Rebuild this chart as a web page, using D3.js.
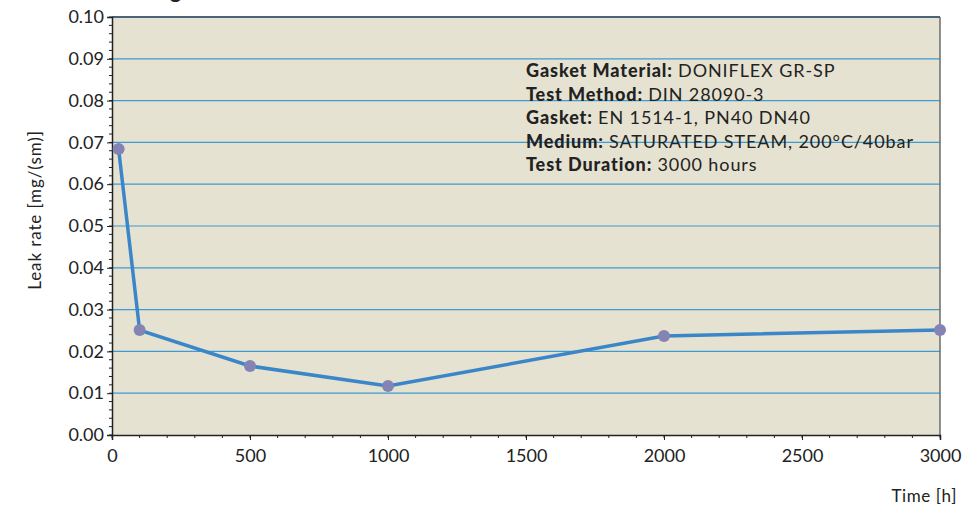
<!DOCTYPE html>
<html lang="en">
  <head>
    <meta charset="utf-8">
    <title>Leak rate</title>
    <script src="https://d3js.org/d3.v7.min.js"></script>
    <style>
      body { margin: 0; background: #fff; }
      text { font-family: Lato, "Open Sans", sans-serif; fill: #222; }
    </style>
  </head>
  <body>
    <div id="chart"></div>
    <script>
      // Data
      var hours = [24, 100, 500, 1000, 2000, 3000];
      var leakRate = [0.0684, 0.0251, 0.0165, 0.0117, 0.0237, 0.0251];
      var xTicks = [0, 500, 1000, 1500, 2000, 2500, 3000];
      var yTicks = [0, 0.01, 0.02, 0.03, 0.04, 0.05, 0.06, 0.07, 0.08, 0.09, 0.10];
      var infoLabels = ["Gasket Material:", "Test Method:", "Gasket:", "Medium:", "Test Duration:"];
      var infoValues = ["DONIFLEX GR-SP", "DIN 28090-3", "EN 1514-1, PN40 DN40", "SATURATED STEAM, 200\u00b0C/40bar", "3000 hours"];

      var W = 979, H = 509;
      var margin = {top: 17, right: 39, bottom: 74, left: 112},
          width = W - margin.left - margin.right,
          height = H - margin.top - margin.bottom;

      var svg = d3.select("#chart").append("svg")
          .attr("width", W)
          .attr("height", H);

      // clipped title, only its descender shows at the top edge
      svg.append("text")
          .attr("x", 113).attr("y", -2)
          .style("font-size", "22px").style("font-weight", "bold")
          .text("Leakage");

      var g = svg.append("g")
          .attr("transform", "translate(" + margin.left + "," + margin.top + ")");

      var x = d3.scaleLinear().domain([0, 3000]).range([0, width]);
      var y = d3.scaleLinear().domain([0, 0.10]).range([height, 0]);

      // plot background
      g.append("rect")
          .attr("width", width).attr("height", height)
          .attr("fill", "#e6e2d1");

      // horizontal grid
      g.selectAll(".grid")
          .data(yTicks.filter(function(d) { return d > 0 && d < 0.1; }))
          .enter().append("line")
          .attr("x1", 0).attr("x2", width)
          .attr("y1", function(d) { return y(d); })
          .attr("y2", function(d) { return y(d); })
          .attr("stroke", "#3d9ad2").attr("stroke-width", 1.2);

      // top and right borders
      g.append("line").attr("x1", 0).attr("x2", width).attr("y1", 0).attr("y2", 0)
          .attr("stroke", "#4a6478").attr("stroke-width", 2);
      g.append("line").attr("x1", width).attr("x2", width).attr("y1", 0).attr("y2", height)
          .attr("stroke", "#6b6b6b").attr("stroke-width", 1.5);

      // minor ticks
      var yMinor = d3.range(0, 0.1001, 0.002);
      g.selectAll(".ym").data(yMinor).enter().append("line")
          .attr("x1", -3).attr("x2", 0)
          .attr("y1", function(d) { return y(d); }).attr("y2", function(d) { return y(d); })
          .attr("stroke", "#222").attr("stroke-width", 1);
      var xMinor = d3.range(0, 3001, 100);
      g.selectAll(".xm").data(xMinor).enter().append("line")
          .attr("y1", height).attr("y2", height + 3)
          .attr("x1", function(d) { return x(d); }).attr("x2", function(d) { return x(d); })
          .attr("stroke", "#222").attr("stroke-width", 1);

      // axes
      var yAxis = g.append("g")
          .call(d3.axisLeft(y).tickValues(yTicks).tickFormat(d3.format(".2f")).tickSize(5).tickPadding(3));
      var xAxis = g.append("g")
          .attr("transform", "translate(0," + height + ")")
          .call(d3.axisBottom(x).tickValues(xTicks).tickFormat(d3.format("d")).tickSize(5).tickPadding(9));
      [yAxis, xAxis].forEach(function(a) {
        a.select(".domain").attr("stroke", "#222").attr("stroke-width", 1.5);
        a.selectAll(".tick line").attr("stroke", "#222");
        a.selectAll(".tick text").style("font-size", "18px").style("font-family", "Lato, sans-serif").attr("fill", "#222");
      });

      // axis titles
      svg.append("text")
          .attr("transform", "translate(41,210) rotate(-90)")
          .attr("text-anchor", "middle")
          .style("font-size", "17px").style("letter-spacing", "0.9px")
          .text("Leak rate [mg/(sm)]");
      svg.append("text")
          .attr("x", 957).attr("y", 502)
          .attr("text-anchor", "end")
          .style("font-size", "17px").style("letter-spacing", "0.6px")
          .text("Time [h]");

      // data line and markers
      var pts = hours.map(function(h, i) { return {h: h, v: leakRate[i]}; });
      g.append("path")
          .datum(pts)
          .attr("fill", "none")
          .attr("stroke", "#3a86c8")
          .attr("stroke-width", 3.5)
          .attr("d", d3.line().x(function(d) { return x(d.h); }).y(function(d) { return y(d.v); }));
      g.selectAll(".dot").data(pts).enter().append("circle")
          .attr("cx", function(d) { return x(d.h); })
          .attr("cy", function(d) { return y(d.v); })
          .attr("r", 6)
          .attr("fill", "#8383b4");

      // info block
      var info = svg.append("g").attr("transform", "translate(526,77)");
      infoLabels.forEach(function(lab, i) {
        var t = info.append("text").attr("x", 0).attr("y", i * 23.5)
            .style("font-size", "18px").style("letter-spacing", "0.9px");
        t.append("tspan").style("font-weight", "900").text(lab + " ");
        t.append("tspan").text(infoValues[i]);
      });
    </script>
  </body>
</html>
